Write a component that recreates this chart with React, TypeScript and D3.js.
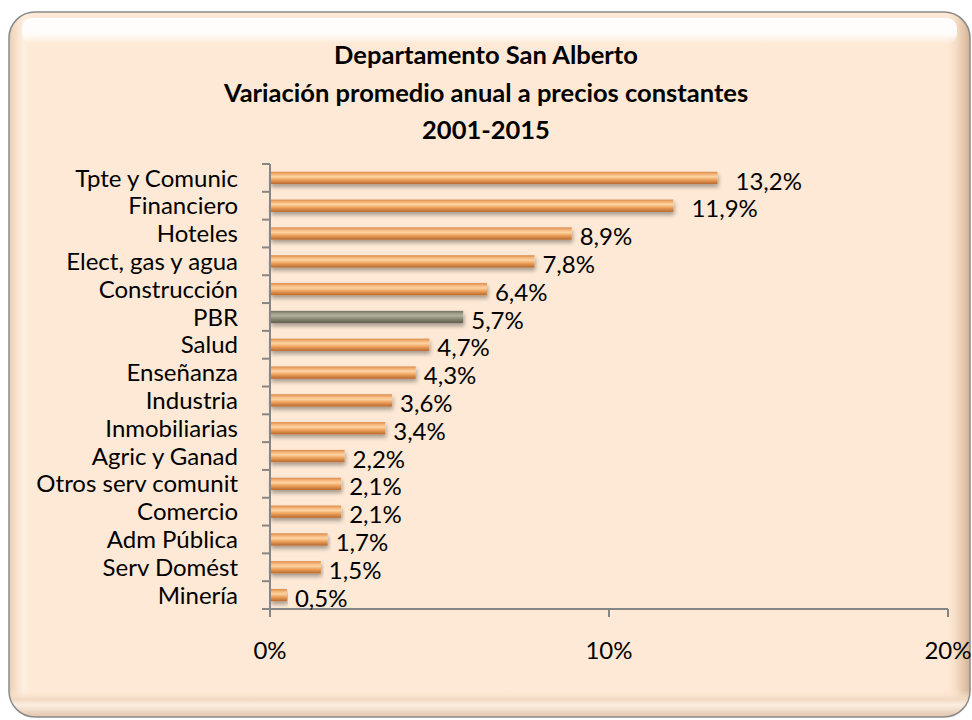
import React from "react";
import * as d3 from "d3";

const categories = [
  "Tpte y Comunic", "Financiero", "Hoteles", "Elect, gas y agua", "Construcción",
  "PBR", "Salud", "Enseñanza", "Industria", "Inmobiliarias", "Agric y Ganad",
  "Otros serv comunit", "Comercio", "Adm Pública", "Serv Domést", "Minería",
];
const values = [13.2, 11.9, 8.9, 7.8, 6.4, 5.7, 4.7, 4.3, 3.6, 3.4, 2.2, 2.1, 2.1, 1.7, 1.5, 0.5];
const highlighted = ["PBR"];
const xTicks = [0, 10, 20];
const titleLines = [
  "Departamento San Alberto",
  "Variación promedio anual a precios constantes",
  "2001-2015",
];

const W = 972;
const H = 720;
const FONT = "Lato, 'Open Sans', sans-serif";

export default function App() {
  const x = d3.scaleLinear().domain([0, 20]).range([270, 948]);
  const y = d3.scaleBand<string>().domain(categories).range([164, 609]).paddingInner(0.56).paddingOuter(0.28);
  const fmt = (v: number) => v.toFixed(1).replace(".", ",") + "%";
  const boundaries = d3.range(categories.length + 1).map((i) => 164 + i * ((609 - 164) / categories.length));

  return (
    <svg width={W} height={H} style={{ position: "absolute", left: 0, top: 0, background: "#fff" }}>
      <defs>
        <linearGradient id="barOrange" x1="0" y1="0" x2="0" y2="1">
          <stop offset="0" stopColor="#d98a48" />
          <stop offset="0.2" stopColor="#f6b578" />
          <stop offset="0.4" stopColor="#fcd4a4" />
          <stop offset="0.65" stopColor="#eea25c" />
          <stop offset="1" stopColor="#b8682c" />
        </linearGradient>
        <linearGradient id="barGrey" x1="0" y1="0" x2="0" y2="1">
          <stop offset="0" stopColor="#6f6f5e" />
          <stop offset="0.2" stopColor="#9a9a86" />
          <stop offset="0.4" stopColor="#b2b29e" />
          <stop offset="0.65" stopColor="#888873" />
          <stop offset="1" stopColor="#5e5e4e" />
        </linearGradient>
        <linearGradient id="topShine" x1="0" y1="0" x2="0" y2="1">
          <stop offset="0" stopColor="#ffffff" stopOpacity="0.95" />
          <stop offset="0.6" stopColor="#ffffff" stopOpacity="0.9" />
          <stop offset="1" stopColor="#ffffff" stopOpacity="0" />
        </linearGradient>
        <linearGradient id="leftShade" x1="0" y1="0" x2="1" y2="0">
          <stop offset="0" stopColor="#e8c9ad" stopOpacity="0.9" />
          <stop offset="0.5" stopColor="#fff3e6" stopOpacity="0.6" />
          <stop offset="1" stopColor="#fde9d5" stopOpacity="0" />
        </linearGradient>
        <linearGradient id="rightShade" x1="0" y1="0" x2="1" y2="0">
          <stop offset="0" stopColor="#fde9d5" stopOpacity="0" />
          <stop offset="0.6" stopColor="#e9cbb0" stopOpacity="0.8" />
          <stop offset="1" stopColor="#d2b093" stopOpacity="1" />
        </linearGradient>
        <linearGradient id="bottomShade" x1="0" y1="0" x2="0" y2="1">
          <stop offset="0" stopColor="#fde9d5" stopOpacity="0" />
          <stop offset="0.35" stopColor="#f2d9c2" stopOpacity="1" />
          <stop offset="0.55" stopColor="#fbeee2" stopOpacity="1" />
          <stop offset="1" stopColor="#e2c4aa" stopOpacity="1" />
        </linearGradient>
        <filter id="barShadow" x="-5%" y="-50%" width="110%" height="250%">
          <feGaussianBlur in="SourceAlpha" stdDeviation="2" />
          <feOffset dx="1" dy="3" result="b" />
          <feComponentTransfer>
            <feFuncA type="linear" slope="0.35" />
          </feComponentTransfer>
          <feMerge>
            <feMergeNode />
            <feMergeNode in="SourceGraphic" />
          </feMerge>
        </filter>
        <clipPath id="frameClip">
          <rect x={9} y={12} width={961} height={705} rx={26} ry={26} />
        </clipPath>
      </defs>

      {/* frame */}
      <rect x={9} y={12} width={961} height={705} rx={26} ry={26} fill="#fde9d5" />
      <g clipPath="url(#frameClip)">
        <rect x={9} y={12} width={30} height={705} fill="url(#leftShade)" />
        <rect x={945} y={12} width={25} height={705} fill="url(#rightShade)" />
        <rect x={9} y={690} width={961} height={27} fill="url(#bottomShade)" />
        <rect x={22} y={18} width={935} height={26} rx={10} fill="url(#topShine)" />
      </g>
      <rect x={9} y={12} width={961} height={705} rx={26} ry={26} fill="none" stroke="#8a8a8a" strokeWidth={1.5} />

      {/* title */}
      <g fontFamily={FONT} fontWeight="bold" fontSize={25.5} fill="#000" textAnchor="middle">
        {titleLines.map((t, i) => (
          <text key={t} x={486} y={64 + i * 37.5}>{t}</text>
        ))}
      </g>

      {/* bars */}
      {categories.map((c, i) => (
        <rect
          key={c}
          x={x(0)}
          y={y(c)!}
          width={x(values[i]) - x(0)}
          height={y.bandwidth()}
          fill={highlighted.includes(c) ? "url(#barGrey)" : "url(#barOrange)"}
          filter="url(#barShadow)"
        />
      ))}

      {/* axes */}
      <g stroke="#868686" strokeWidth={2} fill="none">
        <line x1={x(0)} y1={164} x2={x(0)} y2={617} />
        <line x1={x(0)} y1={609} x2={x(20)} y2={609} />
        {boundaries.map((b, i) => (
          <line key={i} x1={x(0) - 8} y1={b} x2={x(0)} y2={b} />
        ))}
        {xTicks.map((t) => (
          <line key={t} x1={x(t)} y1={609} x2={x(t)} y2={617} />
        ))}
      </g>

      {/* category labels */}
      <g fontFamily={FONT} fontSize={24} fill="#000" textAnchor="end">
        {categories.map((c) => (
          <text key={c} x={238} y={y(c)! + y.bandwidth() / 2} dy="0.36em">{c}</text>
        ))}
      </g>

      {/* value labels */}
      <g fontFamily={FONT} fontSize={24} fill="#000">
        {categories.map((c, i) => (
          <text key={c} x={x(values[i]) + (values[i] > 10 ? 18 : 8)} y={y(c)! + y.bandwidth() / 2 + 3} dy="0.36em">{fmt(values[i])}</text>
        ))}
      </g>

      {/* x tick labels */}
      <g fontFamily={FONT} fontSize={24} fill="#000" textAnchor="middle">
        {xTicks.map((t) => (
          <text key={t} x={x(t)} y={650} dy="0.36em">{t}%</text>
        ))}
      </g>
    </svg>
  );
}
